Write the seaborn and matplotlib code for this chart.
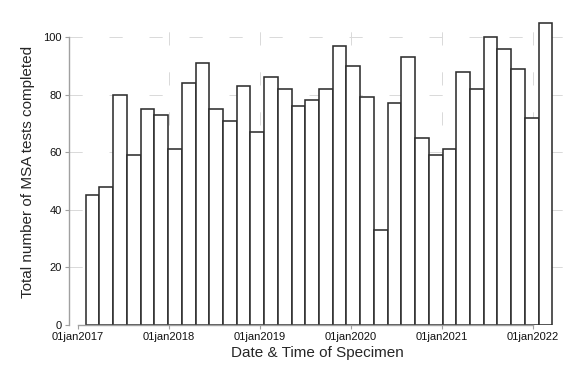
import numpy as np
import pandas as pd
import matplotlib
matplotlib.use("Agg")
import matplotlib.pyplot as plt
import matplotlib.dates as mdates
import seaborn as sns

# ---- data ----
counts = [45, 48, 80, 59, 75, 73, 61, 84, 91, 75, 71, 83, 67, 86, 82, 76, 78,
          82, 97, 90, 79, 33, 77, 93, 65, 59, 61, 88, 82, 100, 96, 89, 72, 105]
bin_start = "2017-02-01"
bin_end = "2022-03-20"
tick_dates = ["2017-01-01", "2018-01-01", "2019-01-01", "2020-01-01",
              "2021-01-01", "2022-01-01"]
tick_labels = ["01jan2017", "01jan2018", "01jan2019", "01jan2020",
               "01jan2021", "01jan2022"]
y_ticks = [0, 20, 40, 60, 80, 100]
x_label = "Date & Time of Specimen"
y_label = "Total number of MSA tests completed"

# ---- build ----
sns.set_theme(style="white")
plt.rcParams["font.family"] = ["Liberation Sans", "DejaVu Sans"]
plt.rcParams["lines.scale_dashes"] = False

lo = mdates.date2num(pd.Timestamp(bin_start))
hi = mdates.date2num(pd.Timestamp(bin_end))
edges = np.linspace(lo, hi, len(counts) + 1)
centers = (edges[:-1] + edges[1:]) / 2
df = pd.DataFrame({"date": centers, "n": np.asarray(counts, dtype=float)})
tick_num = [mdates.date2num(pd.Timestamp(d)) for d in tick_dates]

fig = plt.figure(figsize=(5.76, 3.84), dpi=100)
ax = fig.add_axes([69 / 576, 1 - 325 / 384, (565 - 69) / 576, 307 / 384])

grid_kw = dict(color="#d9d9d9", linewidth=0.7, linestyle=(0, (9.5, 19.3)), zorder=0)
for yv in y_ticks:
    ax.axhline(yv, **grid_kw)
for xv in tick_num[1:]:
    ax.axvline(xv, **grid_kw)

sns.histplot(data=df, x="date", weights="n", bins=len(counts), binrange=(lo, hi),
             ax=ax, color="white", edgecolor="#2e2e2e", linewidth=1.15, alpha=1.0,
             zorder=2)

px_per_day = 91 / 365.25
x0 = tick_num[0]
ax.set_xlim(x0 - 9 / px_per_day, x0 + (565 - 78) / px_per_day)
ax.set_ylim(0, 307 / 2.88)

ax.set_xticks(tick_num)
ax.set_xticklabels(tick_labels)
ax.set_yticks(y_ticks)
ax.set_yticklabels([str(v) for v in y_ticks])

for s in ["top", "right"]:
    ax.spines[s].set_visible(False)
for s in ["left", "bottom"]:
    ax.spines[s].set_color("#a0a0a0")
    ax.spines[s].set_linewidth(1.0)
    ax.spines[s].set_zorder(3)
ax.spines["left"].set_bounds(0, 100)
ax.spines["bottom"].set_bounds(tick_num[0], tick_num[-1])

ax.tick_params(axis="both", which="major", direction="out", length=3,
               width=0.8, color="#a0a0a0", labelsize=8, labelcolor="#111111",
               pad=2, bottom=True, left=True)

ax.set_xlabel(x_label, fontsize=11, labelpad=3)
ax.set_ylabel(y_label, fontsize=11, labelpad=6)

fig.savefig("out.png", dpi=100, facecolor="white")
